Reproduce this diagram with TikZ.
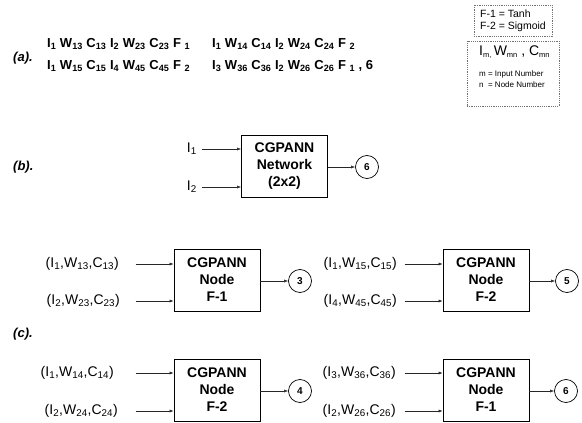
\documentclass[tikz,border=0pt]{standalone}
\usepackage{fontspec}
\setmainfont{Liberation Sans}
\usetikzlibrary{arrows.meta,positioning}

\newcommand{\tsb}[1]{\textsubscript{#1}}
\newcommand{\keysb}[1]{\raisebox{-.35ex}{\fontsize{7.5}{8}\selectfont #1}}
\newcommand{\boxfont}{\fontsize{14}{17}\selectfont\bfseries}

\begin{document}
\begin{tikzpicture}[x=1pt,y=-1pt,>={Latex[length=4pt,width=3pt]},
			every node/.style={font=\fontsize{14}{17}\selectfont},
			tag/.style={font=\fontsize{13}{15}\selectfont\bfseries\itshape,anchor=west,inner sep=0pt},
			gene/.style={font=\fontsize{13}{15}\selectfont\bfseries,anchor=west,inner sep=0pt},
			unit/.style={draw,line width=.8pt,minimum width=86pt,minimum height=62pt,
				align=center,inner sep=0pt,font=\boxfont},
			outc/.style={circle,draw,line width=.7pt,minimum size=23pt,inner sep=0pt,
				font=\fontsize{10}{12}\selectfont\bfseries},
			inlab/.style={anchor=east,inner sep=0pt},
			wire/.style={->,line width=.5pt,black!85},
			keybox/.style={draw=black!55,dashed,dash pattern=on 1.2pt off 1pt,line width=.5pt}]
			\useasboundingbox (0,0) rectangle (582,423);
			% (a) chromosome
			\node[tag] (ta) at (13,58) {(a).};
			\node[gene] (g1) at (47,44) {I\tsb{1} W\tsb{13} C\tsb{13} I\tsb{2} W\tsb{23} C\tsb{23} F \tsb{1}};
			\node[gene] (g2) at (212,44) {I\tsb{1} W\tsb{14} C\tsb{14} I\tsb{2} W\tsb{24} C\tsb{24} F \tsb{2}};
			\node[gene] (g3) at (47,66) {I\tsb{1} W\tsb{15} C\tsb{15} I\tsb{4} W\tsb{45} C\tsb{45} F \tsb{2}};
			\node[gene] (g4) at (212,66) {I\tsb{3} W\tsb{36} C\tsb{36} I\tsb{2} W\tsb{26} C\tsb{26} F \tsb{1} , 6};
			% keys
			\node[keybox,minimum width=78pt,minimum height=31pt,align=left,inner sep=0pt,
				font=\fontsize{10.5}{12}\selectfont] (fkey) at (513,20.5) {F-1 = Tanh\\F-2 = Sigmoid};
			\node[keybox,minimum width=92pt,minimum height=65pt] (skey) at (513,73.5) {};
			\node[anchor=west,inner sep=0pt,font=\fontsize{14}{16}\selectfont] (sym) at (479,52)
			{I\keysb{m,}\,W\keysb{mn} , C\keysb{mn}};
			\node[anchor=north west,inner sep=0pt,align=left,font=\fontsize{8}{11}\selectfont] (symdef) at (479,71)
			{m = Input Number\\n\ \ = Node Number};
			% (b) network
			\node[tag] (tb) at (13,167) {(b).};
			\node[unit] (net) at (284.5,166) {CGPANN\\Network\\(2x2)};
			\node[inlab] (i1) at (197,149) {I\tsb{1}};
			\node[inlab] (i2) at (197,187) {I\tsb{2}};
			\node[outc] (o6) at (367,167) {6};
			\foreach \a in {i1,i2}
			{\draw[wire] ([xshift=-39pt]net.west |- \a) -- (net.west |- \a);}
			\draw[wire] (net.east |- o6) -- (o6);
			% (c) nodes
			\node[tag] (tc) at (13,334) {(c).};
			\node[unit] (n3) at (217,280) {CGPANN\\Node\\F-1};
			\node[unit] (n5) at (486,280) {CGPANN\\Node\\F-2};
			\node[unit] (n4) at (217,390) {CGPANN\\Node\\F-2};
			\node[unit] (n6) at (486,390) {CGPANN\\Node\\F-1};
			\node[outc] (c3) at (300,281) {3};
			\node[outc] (c5) at (567,281) {5};
			\node[outc] (c4) at (300,391) {4};
			\node[outc] (c6) at (566,391) {6};
			\node[inlab] (l13) at (119,264) {(I\tsb{1},W\tsb{13},C\tsb{13})};
			\node[inlab] (l23) at (120,301) {(I\tsb{2},W\tsb{23},C\tsb{23})};
			\node[inlab] (l15) at (397,264) {(I\tsb{1},W\tsb{15},C\tsb{15})};
			\node[inlab] (l45) at (397,301) {(I\tsb{4},W\tsb{45},C\tsb{45})};
			\node[inlab] (l14) at (114,373) {(I\tsb{1},W\tsb{14},C\tsb{14})};
			\node[inlab] (l24) at (118,411) {(I\tsb{2},W\tsb{24},C\tsb{24})};
			\node[inlab] (l36) at (396,373) {(I\tsb{3},W\tsb{36},C\tsb{36})};
			\node[inlab] (l26) at (396,411) {(I\tsb{2},W\tsb{26},C\tsb{26})};
			\foreach \a/\b in {l13/n3,l23/n3,l15/n5,l45/n5,l14/n4,l24/n4,l36/n6,l26/n6}
			{\draw[wire] ([xshift=-38pt]\b.west |- \a) -- (\b.west |- \a);}
			\foreach \a/\b in {n3/c3,n5/c5,n4/c4,n6/c6}
			{\draw[wire] (\a.east |- \b) -- (\b);}
		\end{tikzpicture}
\end{document}
